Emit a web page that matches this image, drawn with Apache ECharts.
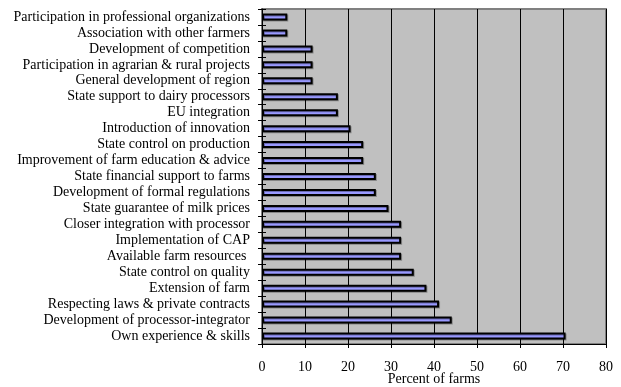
<!DOCTYPE html>
<html>
<head>
<meta charset="utf-8">
<script src="https://cdn.jsdelivr.net/npm/echarts@6/dist/echarts.min.js"></script>
<style>
html,body{margin:0;padding:0;background:#fff;}
#c{width:621px;height:387px;}
</style>
</head>
<body>
<div id="c"></div>
<script>
var categories = [
  "Participation in professional organizations",
  "Association with other farmers",
  "Development of competition",
  "Participation in agrarian & rural projects",
  "General development of region",
  "State support to dairy processors",
  "EU integration",
  "Introduction of innovation",
  "State control on production",
  "Improvement of farm education & advice",
  "State financial support to farms",
  "Development of formal regulations",
  "State guarantee of milk prices",
  "Closer integration with processor",
  "Implementation of CAP",
  "Available farm resources ",
  "State control on quality",
  "Extension of farm",
  "Respecting laws & private contracts",
  "Development of processor-integrator",
  "Own experience & skills"
];
var values = [5.88, 5.88, 11.76, 11.76, 11.76, 17.65, 17.65, 20.59, 23.53, 23.53, 26.47, 26.47, 29.41, 32.35, 32.35, 32.35, 35.29, 38.24, 41.18, 44.12, 70.59];
var xTicks = [0, 10, 20, 30, 40, 50, 60, 70, 80];
var xName = "Percent of farms";

var font = "'Liberation Serif', 'Times New Roman', serif";
var chart = echarts.init(document.getElementById('c'), null, {renderer: 'canvas'});
chart.setOption({
  animation: false,
  grid: {
    left: 262, right: 15, top: 9, bottom: 43,
    containLabel: false, outerBoundsMode: 'none',
    show: true, backgroundColor: '#C0C0C0', borderColor: '#808080', borderWidth: 2
  },
  xAxis: {
    type: 'value',
    min: xTicks[0], max: xTicks[xTicks.length - 1], interval: xTicks[1] - xTicks[0],
    name: xName, nameLocation: 'middle', nameGap: 35, nameMoveOverlap: false,
    nameTextStyle: {fontFamily: font, fontSize: 14, color: '#000', verticalAlign: 'middle'},
    axisLine: {show: true, lineStyle: {color: '#000', width: 1}},
    axisTick: {show: true, length: 4, lineStyle: {color: '#000'}},
    axisLabel: {fontFamily: font, fontSize: 14, color: '#000', margin: 16},
    splitLine: {show: true, lineStyle: {color: '#000', width: 1}}
  },
  yAxis: [{
    type: 'category', data: categories, inverse: true,
    axisLine: {show: true, lineStyle: {color: '#000', width: 1}},
    axisTick: {show: true, length: 4, lineStyle: {color: '#000'}},
    axisLabel: {fontFamily: font, fontSize: 14, color: '#000', margin: 12, interval: 0},
    splitLine: {show: false}
  }, {
    type: 'category', data: categories, inverse: true, position: 'left',
    axisLine: {show: false},
    axisTick: {show: true, inside: true, length: 4, lineStyle: {color: '#000'}},
    axisLabel: {show: false},
    splitLine: {show: false}
  }],
  series: [{
    type: 'bar', data: values, barWidth: 7,
    itemStyle: {color: '#9999FF', borderColor: '#000', borderWidth: 2,
      shadowColor: 'rgba(0,0,0,0.3)', shadowOffsetX: 1, shadowOffsetY: 1, shadowBlur: 0}
  }]
});
</script>
</body>
</html>
